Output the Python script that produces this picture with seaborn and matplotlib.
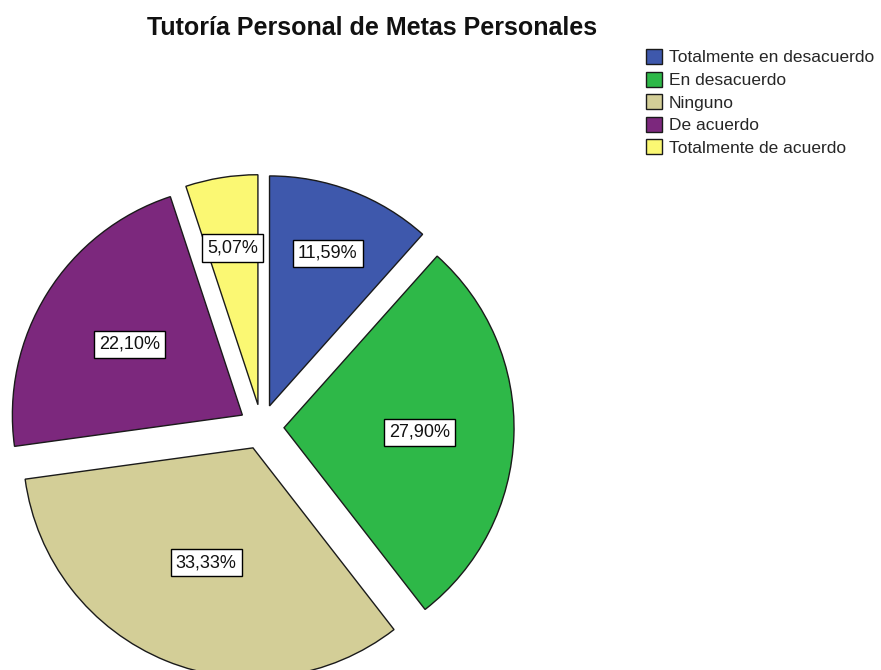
import numpy as np
import matplotlib
matplotlib.use("Agg")
import matplotlib.pyplot as plt
import seaborn as sns

# data (percent of answers)
categories = ["Totalmente en desacuerdo", "En desacuerdo", "Ninguno",
              "De acuerdo", "Totalmente de acuerdo"]
percentages = [11.59, 27.90, 33.33, 22.10, 5.07]
title = "Tutoría Personal de Metas Personales"

colors = ["#3E58AC", "#2EB848", "#D3CE97", "#7C287D", "#FBF873"]

sns.set_theme(style="white")
plt.rcParams['font.family'] = ['Liberation Sans', 'DejaVu Sans']

fig = plt.figure(figsize=(8.81, 6.70), dpi=100)
ax = fig.add_axes([0, 0, 1, 1])

wedges, texts, autotexts = ax.pie(
    percentages,
    colors=sns.color_palette(colors),
    startangle=90,
    counterclock=False,
    explode=[0.098] * len(percentages),
    autopct=lambda p: f"{p:.2f}%".replace(".", ","),
    wedgeprops=dict(edgecolor="#1a1a1a", linewidth=1.0),
    textprops=dict(fontsize=13, color="#111111"),
)

# label distance from each exploded slice centre (radius units)
label_r = [0.71, 0.59, 0.54, 0.58, 0.69]
for w, t, r in zip(wedges, autotexts, label_r):
    mid = np.deg2rad((w.theta1 + w.theta2) / 2)
    cx, cy = w.center
    t.set_position((cx + r * np.cos(mid), cy + r * np.sin(mid)))
    t.set_ha("center")
    t.set_va("center")
    t.set_bbox(dict(boxstyle="square,pad=0.28", facecolor="white",
                    edgecolor="black", linewidth=1.0))

# pie centre at (261.5, 427) px, radius 230 px
R = 230.0
ax.set_xlim(-261.5 / R, (881 - 261.5) / R)
ax.set_ylim(-(670 - 427) / R, 427 / R)
ax.set_aspect("auto")
ax.axis("off")

fig.text(372 / 881, 1 - 35 / 670, title, ha="center", va="baseline",
         fontsize=18, fontweight="bold", color="#111111")

fig.legend(wedges, categories, loc="upper left",
           bbox_to_anchor=(646 / 881, 1 - 49 / 670),
           frameon=False, fontsize=12.5, borderpad=0, borderaxespad=0,
           handlelength=0.95, handleheight=0.95, handletextpad=0.35,
           labelspacing=0.35)

fig.savefig("out.png", dpi=100)
